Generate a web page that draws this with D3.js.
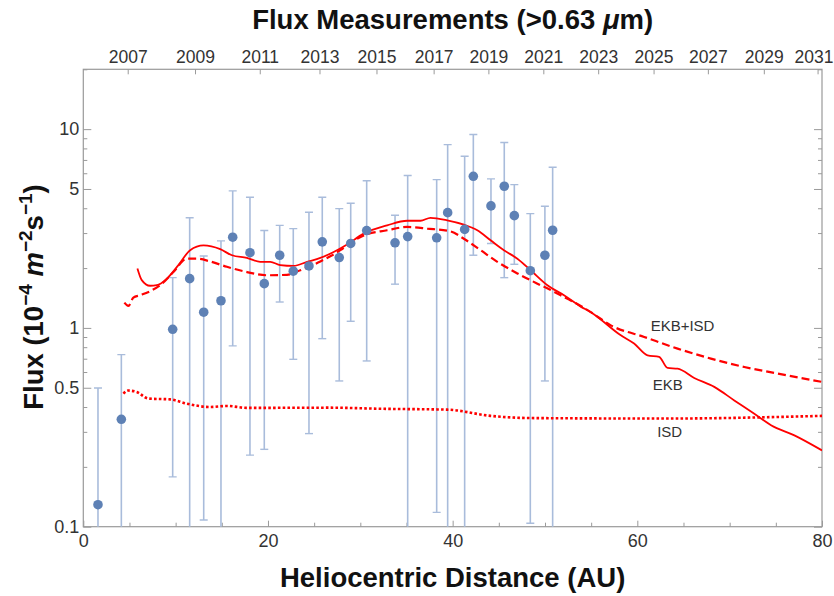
<!DOCTYPE html>
<html>
<head>
<meta charset="utf-8">
<script src="https://cdn.jsdelivr.net/npm/d3@7"></script>
<style>
  html, body { margin: 0; padding: 0; background: #fff; }
  svg { display: block; font-family: "Liberation Sans", Arial, Helvetica, sans-serif; }
</style>
</head>
<body>
<svg id="chart" width="834" height="596"></svg>
<script>
// Measured dust flux by heliocentric distance (AU), with upper/lower bounds.
// A null lower bound means the bar runs below the bottom of the plot.
const distanceAU = [1.59, 4.12, 9.68, 11.52, 13.04, 14.91, 16.18, 18.05, 19.60, 21.27, 22.74, 24.44, 25.88, 27.72,
                    28.96, 30.69, 33.76, 35.13, 38.27, 39.46, 41.30, 42.24, 44.15, 45.59, 46.68, 48.41, 49.99, 50.83];
const flux     = [0.129, 0.347, 0.984, 1.77, 1.20, 1.37, 2.86, 2.39, 1.67, 2.32, 1.93, 2.05, 2.71, 2.26,
                  2.66, 3.09, 2.68, 2.88, 2.84, 3.80, 3.13, 5.79, 4.11, 5.16, 3.67, 1.94, 2.32, 3.10];
const fluxHi   = [0.499, 0.734, 1.79, 3.58, 2.30, 2.74, 4.89, 4.54, 3.09, 3.28, 3.16, 3.82, 4.54, 3.98,
                  4.24, 5.50, 3.69, 5.84, 5.57, 8.36, 7.31, 9.39, 5.62, 8.56, 5.26, 3.76, 4.09, 6.43];
const fluxLo   = [null, null, 0.178, null, 0.108, null, 0.812, 0.229, 0.245, 1.35, 0.695, 0.294, 0.883, 0.541,
                  1.08, 0.682, 1.66, null, 0.118, null, null, 2.32, 2.66, 1.79, 2.09, 0.104, 0.541, null];

// Model curves: [distance AU, flux]
const ekbCurve = [[5.86,1.99],[6.33,1.74],[7.23,1.63],[7.96,1.64],[9.05,1.77],[10.30,2.07],[11.57,2.46],[13.02,2.60],
  [14.83,2.49],[16.10,2.32],[17.72,2.25],[19.16,2.15],[20.25,2.15],[21.33,2.07],[22.78,2.05],[24.23,2.15],[25.67,2.25],
  [27.11,2.41],[28.57,2.63],[30.37,2.98],[32.91,3.28],[35.08,3.46],[36.52,3.46],[37.60,3.58],[39.41,3.48],[41.21,3.31],
  [42.67,3.10],[44.11,2.76],[45.55,2.46],[47.01,2.23],[48.45,1.95],[50.26,1.64],[52.06,1.46],[53.87,1.28],[54.96,1.20],
  [58.21,0.918],[59.65,0.834],[61.11,0.728],[62.36,0.715],[63.28,0.629],[64.36,0.624],[66.16,0.560],[68.33,0.505],
  [70.50,0.432],[72.67,0.370],[74.48,0.324],[77.01,0.288],[80,0.242]];
const ekbIsdCurve = [[4.45,1.34],[4.88,1.29],[5.42,1.42],[6.15,1.46],[7.23,1.53],[8.32,1.64],[9.76,1.91],[11.21,2.23],
  [12.30,2.23],[13.74,2.16],[15.55,2.03],[17.72,1.91],[19.89,1.84],[22.06,1.85],[23.50,1.95],[25.67,2.16],[27.84,2.46],
  [28.57,2.60],[30.37,2.92],[32.91,3.10],[35.08,3.22],[37.25,3.16],[39.77,3.06],[41.21,2.81],[43.03,2.46],[44.84,2.15],
  [47.01,1.88],[49.18,1.67],[50.62,1.55],[52.06,1.43],[53.87,1.29],[54.96,1.20],[57.13,1.03],[60.74,0.901],[64.36,0.787],
  [67.97,0.701],[71.58,0.636],[75.20,0.589],[80,0.535]];
const isdCurve = [[4.34,0.467],[4.85,0.484],[5.79,0.476],[7.05,0.441],[9.40,0.437],[11.21,0.416],[13.74,0.400],
  [15.55,0.405],[17.72,0.396],[26.76,0.397],[32.18,0.392],[39.41,0.388],[44.11,0.361],[48.45,0.352],[62.91,0.350],[80,0.361]];

// Upper axis: calendar year against spacecraft distance
const yearLabels = ["2007","2009","2011","2013","2015","2017","2019","2021","2023","2025","2027","2029","2031"];
const yearAU     = [4.81, 12.10, 19.11, 25.58, 31.75, 37.94, 43.87, 49.82, 55.76, 61.76, 67.64, 73.70, 79.52];

const xMajorTicks = [0, 20, 40, 60, 80];
const xMinorTicks = [5, 10, 15, 25, 30, 35, 45, 50, 55, 65, 70, 75];
const yMajorTicks = [0.1, 0.5, 1, 5, 10];
const yMinorTicks = [0.2, 0.3, 0.4, 0.6, 0.7, 0.8, 0.9, 2, 3, 4, 6, 7, 8, 9, 20];

const curveLabels = [
  { text: "EKB+ISD", au: 64.9, flux: 1.03 },
  { text: "EKB",     au: 63.3, flux: 0.518 },
  { text: "ISD",     au: 63.5, flux: 0.302 }
];

const W = 834, H = 596;
const margin = { top: 69.3, right: 12, bottom: 69.3, left: 83.3 };
const iw = W - margin.left - margin.right;
const ih = H - margin.top - margin.bottom;

const svg = d3.select("#chart");
const g = svg.append("g").attr("transform", `translate(${margin.left},${margin.top})`);

const x = d3.scaleLinear().domain([0, 80]).range([0, iw]);
const y = d3.scaleLog().domain([0.1, 20]).range([ih, 0]);

svg.append("defs").append("clipPath").attr("id", "plotClip")
  .append("rect").attr("width", iw).attr("height", ih);

const frameColor = "#9a9a9a";
const labelColor = "#333";

// Frame
g.append("rect").attr("width", iw).attr("height", ih)
  .attr("fill", "none").attr("stroke", frameColor).attr("stroke-width", 1.2);

function styleAxis(sel, showText, size) {
  sel.select(".domain").remove();
  sel.selectAll(".tick line").attr("stroke", frameColor).attr("stroke-width", 1);
  sel.selectAll(".tick text").attr("fill", labelColor).attr("font-size", size || 18)
    .attr("font-family", "Liberation Sans, Arial, sans-serif");
  if (!showText) sel.selectAll(".tick text").remove();
}

// Bottom axis
g.append("g").attr("transform", `translate(0,${ih})`)
  .call(d3.axisBottom(x).tickValues(xMinorTicks).tickSize(-4)).call(s => styleAxis(s, false));
g.append("g").attr("transform", `translate(0,${ih})`)
  .call(d3.axisBottom(x).tickValues(xMajorTicks).tickSize(-6).tickPadding(8).tickFormat(d3.format("d")))
  .call(s => styleAxis(s, true));

// Top axis (years); the last label is kept inside the page edge
const topAxis = g.append("g")
  .call(d3.axisTop(x).tickValues(yearAU).tickSize(-5).tickPadding(6).tickFormat((d, i) => yearLabels[i]))
  .call(s => styleAxis(s, true, 17.5));
topAxis.selectAll(".tick text")
  .filter((d, i) => i === yearAU.length - 1)
  .attr("text-anchor", "end")
  .attr("x", W - margin.left - 1 - x(yearAU[yearAU.length - 1]));

// Left axis
g.append("g").call(d3.axisLeft(y).tickValues(yMinorTicks).tickSize(-4)).call(s => styleAxis(s, false));
g.append("g").call(d3.axisLeft(y).tickValues(yMajorTicks).tickSize(-8).tickPadding(4).tickFormat(d => String(d)))
  .call(s => styleAxis(s, true));

// Right axis (ticks only)
g.append("g").attr("transform", `translate(${iw},0)`)
  .call(d3.axisRight(y).tickValues(yMinorTicks).tickSize(-4)).call(s => styleAxis(s, false));
g.append("g").attr("transform", `translate(${iw},0)`)
  .call(d3.axisRight(y).tickValues(yMajorTicks).tickSize(-8)).call(s => styleAxis(s, false));

const plot = g.append("g").attr("clip-path", "url(#plotClip)");

// Error bars
const points = distanceAU.map((d, i) => ({ au: d, f: flux[i], hi: fluxHi[i], lo: fluxLo[i] }));
const barColor = "#a9bcdb";
const capW = 4;
const bars = plot.append("g");
points.forEach(p => {
  const yHi = y(p.hi);
  const yLo = p.lo === null ? ih + 2 : y(p.lo);
  bars.append("line").attr("x1", x(p.au)).attr("x2", x(p.au)).attr("y1", yHi).attr("y2", yLo)
    .attr("stroke", barColor).attr("stroke-width", 1.6);
  bars.append("line").attr("x1", x(p.au) - capW).attr("x2", x(p.au) + capW).attr("y1", yHi).attr("y2", yHi)
    .attr("stroke", barColor).attr("stroke-width", 1.4);
  if (p.lo !== null) {
    bars.append("line").attr("x1", x(p.au) - capW).attr("x2", x(p.au) + capW).attr("y1", yLo).attr("y2", yLo)
      .attr("stroke", barColor).attr("stroke-width", 1.4);
  }
});

// Model curves
const line = d3.line().x(d => x(d[0])).y(d => y(d[1])).curve(d3.curveMonotoneX);
plot.append("path").datum(isdCurve).attr("d", line)
  .attr("fill", "none").attr("stroke", "#ff0000").attr("stroke-width", 2.6).attr("stroke-dasharray", "2.6,2.2");
plot.append("path").datum(ekbIsdCurve).attr("d", line)
  .attr("fill", "none").attr("stroke", "#ff0000").attr("stroke-width", 2.2).attr("stroke-dasharray", "8,4");
plot.append("path").datum(ekbCurve).attr("d", line)
  .attr("fill", "none").attr("stroke", "#ff0000").attr("stroke-width", 1.8);

// Data points
plot.append("g").selectAll("circle").data(points).join("circle")
  .attr("cx", d => x(d.au)).attr("cy", d => y(d.f)).attr("r", 4.8)
  .attr("fill", "#5e81b5");

// Curve labels
g.append("g").selectAll("text").data(curveLabels).join("text")
  .attr("x", d => x(d.au)).attr("y", d => y(d.flux)).attr("dy", "0.35em")
  .attr("text-anchor", "middle").attr("font-size", 15).attr("fill", labelColor)
  .text(d => d.text);

// Titles
svg.append("text").attr("x", margin.left + iw / 2).attr("y", 586.5)
  .attr("text-anchor", "middle").attr("font-size", 27.5).attr("font-weight", "bold").attr("fill", "#111")
  .text("Heliocentric Distance (AU)");

const topTitle = svg.append("text").attr("x", margin.left + iw / 2).attr("y", 28.5)
  .attr("text-anchor", "middle").attr("font-size", 27.5).attr("font-weight", "bold").attr("fill", "#111");
topTitle.append("tspan").text("Flux Measurements (>0.63 ");
topTitle.append("tspan").attr("font-style", "italic").text("\u03bc");
topTitle.append("tspan").text("m)");

const yTitle = svg.append("text").attr("transform", "translate(43,297) rotate(-90)")
  .attr("text-anchor", "middle").attr("font-size", 27.5).attr("font-weight", "bold").attr("fill", "#111");
yTitle.append("tspan").text("Flux (10");
yTitle.append("tspan").attr("dy", -11).attr("font-size", 19).text("\u22124");
yTitle.append("tspan").attr("dy", 11).text(" ");
yTitle.append("tspan").attr("font-style", "italic").text("m");
yTitle.append("tspan").attr("dy", -11).attr("font-size", 19).text("\u22122");
yTitle.append("tspan").attr("dy", 11).text("s");
yTitle.append("tspan").attr("dy", -11).attr("font-size", 19).text("\u22121");
yTitle.append("tspan").attr("dy", 11).text(")");
</script>
</body>
</html>
